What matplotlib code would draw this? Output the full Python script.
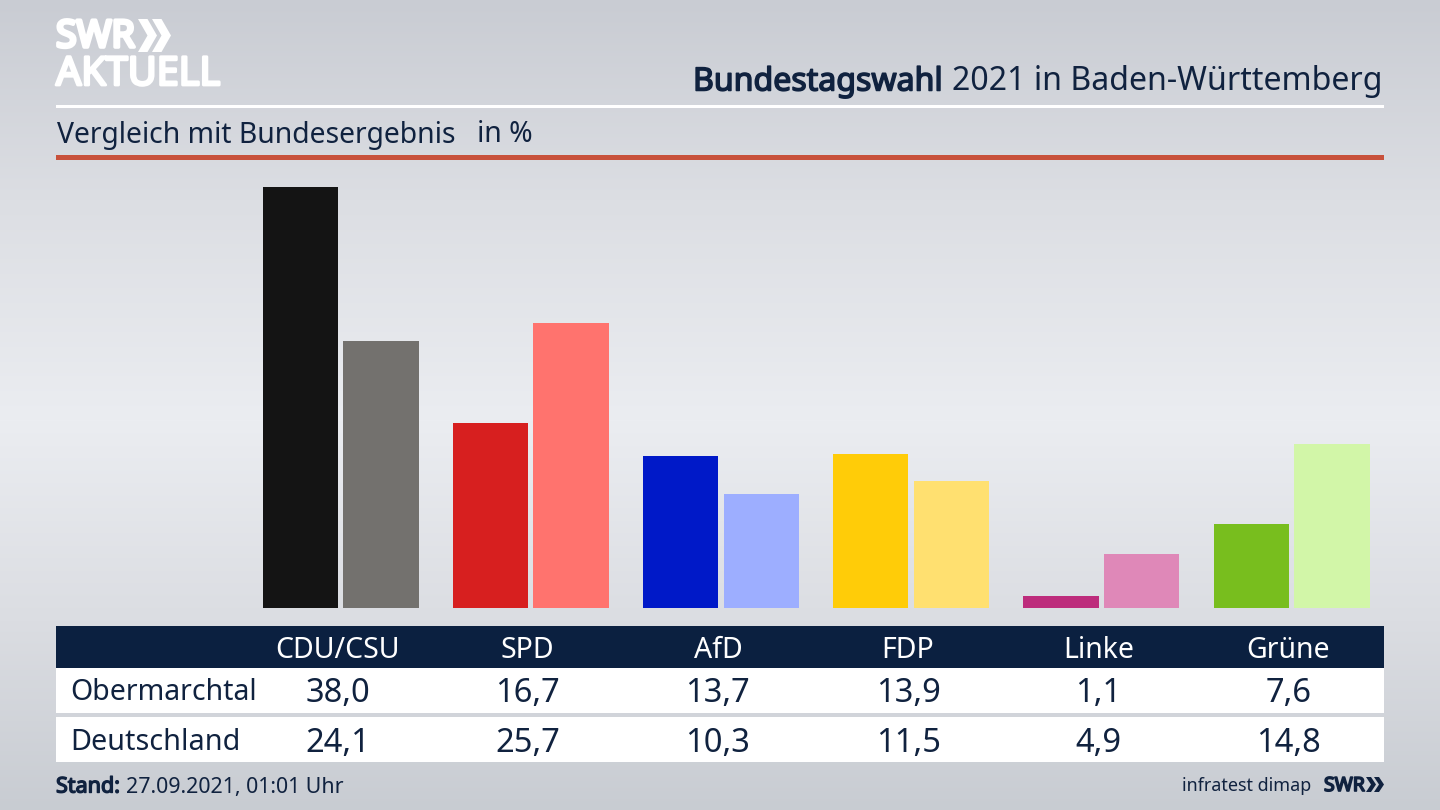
import numpy as np
import matplotlib
matplotlib.use("Agg")
import matplotlib.pyplot as plt
import matplotlib.patheffects as pe
from matplotlib.patches import Rectangle, Polygon

W, H = 1440, 810
NAVY = "#0b2040"
TEXT = "#10223f"

parties = ["CDU/CSU", "SPD", "AfD", "FDP", "Linke", "Grüne"]
obermarchtal = [38.0, 16.7, 13.7, 13.9, 1.1, 7.6]
deutschland = [24.1, 25.7, 10.3, 11.5, 4.9, 14.8]
colors_local = ["#141414", "#d71f1f", "#0019c8", "#ffcc08", "#bd2c7c", "#78be1e"]
colors_national = ["#73716e", "#ff736e", "#9daeff", "#ffe070", "#df88b8", "#d2f6a8"]

plt.rcParams["font.family"] = ["Noto Sans", "DejaVu Sans"]


def fmt(v):
    return f"{v:.1f}".replace(".", ",")


def bold(t, color, width):
    # Noto Sans here has only a regular cut, so thicken it with a stroke
    t.set_path_effects([pe.withStroke(linewidth=width, foreground=color)])
    return t


def chevrons(ax, x, y, h, w, gap, color):
    # two arrow heads next to the SWR mark
    for x0 in (x, x + gap):
        pts = [(x0, y), (x0 + w * 0.5, y), (x0 + w, y + h / 2), (x0 + w * 0.5, y + h),
               (x0, y + h), (x0 + w * 0.5, y + h / 2)]
        ax.add_patch(Polygon(pts, closed=True, color=color, lw=0))


fig = plt.figure(figsize=(W / 100, H / 100), dpi=100)

# ---------- background ----------
bg = fig.add_axes([0, 0, 1, 1], zorder=0)
stops_y = [0, 200, 420, 620, 810]
stops_c = np.array([[201, 204, 211], [220, 222, 227], [235, 237, 241], [219, 221, 226], [200, 204, 210]]) / 255
yy = np.arange(H)
grad = np.stack([np.interp(yy, stops_y, stops_c[:, i]) for i in range(3)], axis=1)[:, None, :]
bg.imshow(grad, aspect="auto", extent=[0, W, H, 0])
bg.set_xlim(0, W)
bg.set_ylim(H, 0)
bg.axis("off")

# ---------- bars ----------
left, right, top, bottom = 56, 1384, 170, 608
ax = fig.add_axes([left / W, 1 - bottom / H, (right - left) / W, (bottom - top) / H], zorder=1)
ax.patch.set_alpha(0)
x = np.arange(len(parties))
ax.bar(x - 0.212, obermarchtal, width=0.396, color=colors_local)
ax.bar(x + 0.212, deutschland, width=0.396, color=colors_national)
ax.set_xlim(-1.496, 5.486)
ax.set_ylim(0, 39.55)
ax.axis("off")

# ---------- header, table, footer ----------
ov = fig.add_axes([0, 0, 1, 1], zorder=2)
ov.patch.set_alpha(0)
ov.set_xlim(0, W)
ov.set_ylim(H, 0)
ov.axis("off")

ov.add_patch(Rectangle((56, 105), 1328, 2.5, color="white", lw=0))
ov.add_patch(Rectangle((56, 155), 1328, 5, color="#c8513c", lw=0))
ov.add_patch(Rectangle((56, 626), 1328, 42, color=NAVY, lw=0))
ov.add_patch(Rectangle((56, 668), 1328, 45, color="white", lw=0))
ov.add_patch(Rectangle((56, 717), 1328, 45, color="white", lw=0))

bold(ov.text(56, 37, "SWR", color="white", fontsize=27, va="center", ha="left"), "white", 2.6)
chevrons(ov, 138, 19, 33, 19, 14, "white")
bold(ov.text(56, 75, "AKTUELL", color="white", fontsize=28.5, va="center", ha="left"), "white", 2.0)

bold(ov.text(693, 82, "Bundestagswahl", color=TEXT, fontsize=23.1, va="center", ha="left"), TEXT, 1.1)
ov.text(1383, 82, "2021 in Baden-Württemberg", color=TEXT, fontsize=23.1, va="center", ha="right")
ov.text(57, 135, "Vergleich mit Bundesergebnis", color=TEXT, fontsize=20.4, va="center", ha="left")
ov.text(477, 135, "in %", color=TEXT, fontsize=20.4, va="center", ha="left")

for i, p in enumerate(parties):
    cx = 337.5 + 190.2 * i
    ov.text(cx, 650, p, color="white", fontsize=20.5, va="center", ha="center")
    ov.text(cx, 694, fmt(obermarchtal[i]), color=TEXT, fontsize=23.5, va="center", ha="center")
    ov.text(cx, 744, fmt(deutschland[i]), color=TEXT, fontsize=23.5, va="center", ha="center")
ov.text(70, 693, "Obermarchtal", color=TEXT, fontsize=20.5, va="center", ha="left")
ov.text(70, 743, "Deutschland", color=TEXT, fontsize=20.7, va="center", ha="left")

bold(ov.text(56, 787, "Stand:", color=TEXT, fontsize=15.5, va="center", ha="left"), TEXT, 1.0)
ov.text(126, 787, "27.09.2021, 01:01 Uhr", color=TEXT, fontsize=15.4, va="center", ha="left")
ov.text(1311, 786, "infratest dimap", color=TEXT, fontsize=12.9, va="center", ha="right")
bold(ov.text(1324, 786, "SWR", color=TEXT, fontsize=14, va="center", ha="left"), TEXT, 1.2)
chevrons(ov, 1366, 777, 15, 10, 8, TEXT)

fig.savefig("out.png", dpi=100)
